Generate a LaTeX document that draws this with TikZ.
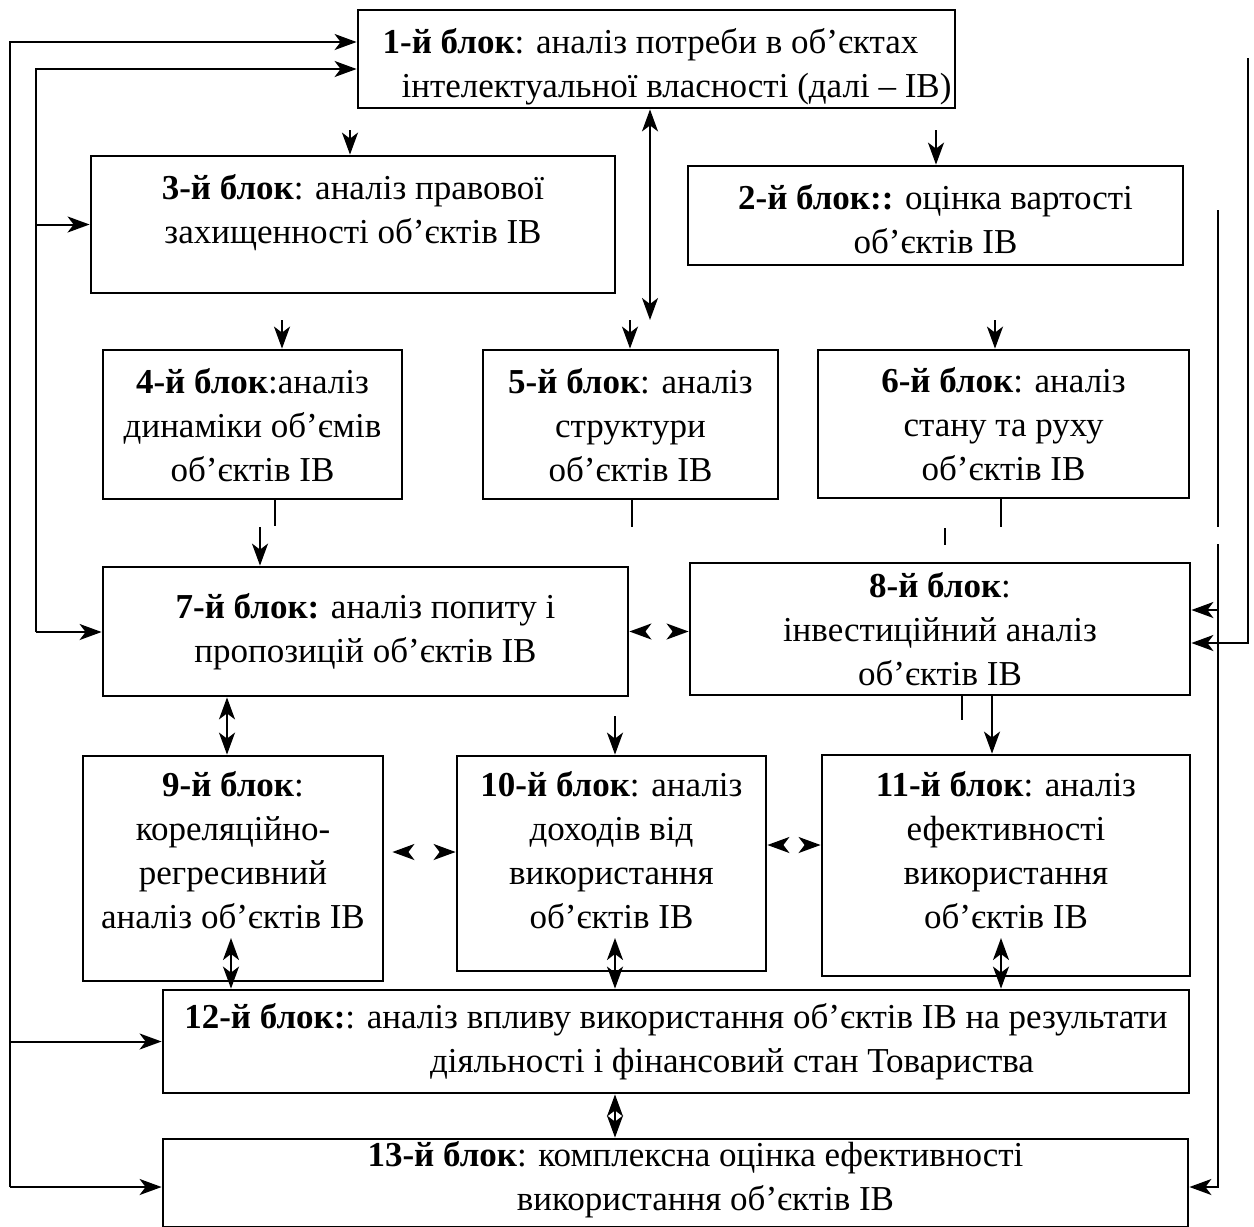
\documentclass[tikz,border=0pt]{standalone}
\usepackage{fontspec}
\setmainfont{Liberation Serif}
\usetikzlibrary{arrows.meta,calc}
\newcommand\mv[2]{\hspace*{#1}#2\hspace*{-#1}}
\newcommand\blockat[7]{%
  \node[blk, minimum width={(#4-#2)*0.5pt}, minimum height={(#5-#3)*0.5pt}]
    (#1) at ({(#2+#4)/2},{(#3+#5)/2})
    {\raisebox{#6}[\height][\depth]{\begin{tabular}{@{}c@{}}#7\end{tabular}}};}
\begin{document}
\begin{tikzpicture}[x=0.5pt,y=-0.5pt,
  blk/.style={draw, line width=1.4pt, inner sep=0pt,
    font=\fontsize{17.5pt}{22pt}\selectfont},
  ln/.style={line width=1pt},
  tip/.tip={Stealth[length=11pt,width=8pt,inset=3pt]},
  con/.style={ln, -tip},
  dbl/.style={ln, tip-tip},
  heads/.style={dbl, dash pattern=on 0pt off 2000pt}]
\useasboundingbox (0,0) rectangle (1254,1227);

\blockat{b1}{358}{10}{955}{108}{-4pt}{\mv{-3pt}{\textbf{1-й блок}: аналіз потреби в об’єктах}\\ \mv{10pt}{інтелектуальної власності (далі – ІВ)}}
\blockat{b3}{91}{156}{615}{293}{6pt}{\textbf{3-й блок}: аналіз правової\\ захищенності об’єктів ІВ}
\blockat{b2}{688}{166}{1183}{265}{-3.5pt}{\textbf{2-й блок::} оцінка вартості\\ об’єктів ІВ}
\blockat{b4}{103}{350}{402}{499}{-2pt}{\textbf{4-й блок}:аналіз\\ динаміки об’ємів\\ об’єктів ІВ}
\blockat{b5}{483}{350}{778}{499}{-2pt}{\textbf{5-й блок}: аналіз\\ структури\\ об’єктів ІВ}
\blockat{b6}{818}{350}{1189}{498}{-2pt}{\textbf{6-й блок}: аналіз\\ стану та руху\\ об’єктів ІВ}
\blockat{b7}{103}{567}{628}{696}{0pt}{\textbf{7-й блок:} аналіз попиту і\\ пропозицій об’єктів ІВ}
\blockat{b8}{690}{565}{1190}{693}{-2pt}{\textbf{8-й блок}:\\ інвестиційний аналіз\\ об’єктів ІВ}
\blockat{b9}{83}{756}{383}{981}{7.5pt}{\textbf{9-й блок}:\\ кореляційно-\\ регресивний\\ аналіз об’єктів ІВ}
\blockat{b10}{457}{756}{766}{971}{5pt}{\textbf{10-й блок}: аналіз\\ доходів від\\ використання\\ об’єктів ІВ}
\blockat{b11}{822}{755}{1190}{976}{6pt}{\textbf{11-й блок}: аналіз\\ ефективності\\ використання\\ об’єктів ІВ}
\blockat{b12}{163}{990}{1189}{1093}{0pt}{\textbf{12-й блок:}: аналіз впливу використання об’єктів ІВ на результати\\ \mv{28pt}{діяльності і фінансовий стан Товариства}}
\blockat{b13}{163}{1143}{1188}{1223}{1.5pt}{\mv{10pt}{\textbf{13-й блок}: комплексна оцінка ефективності}\\ \mv{15pt}{використання об’єктів ІВ}}

% left outer feedback line
\coordinate (lo1) at (10,42);
\coordinate (lo2) at (10,1187);
\draw[con] (lo2) -- (lo1) -- (b1.west |- lo1);
\draw[con] (lo2 |- b12.west) -- (b12.west);
\draw[con] (lo2) -- (b13.west |- lo2);
% left inner feedback line
\coordinate (li1) at (36,69);
\coordinate (li2) at (36,632);
\draw[con] (li2) -- (li1) -- (b1.west |- li1);
\draw[con] (li1 |- b3.west) -- (b3.west);
\draw[con] (li2) -- (b7.west |- li2);
% right lines
\coordinate (ri0) at (1218,210);
\coordinate (ri1) at (1218,527);
\coordinate (ri2) at (1218,544);
\coordinate (ri3) at (1218,1187);
\coordinate (ri4) at (1218,610);
\draw[ln] (ri0) -- (ri1);
\draw[con] (ri2) -- (ri3) -- (b13.east |- ri3);
\draw[con] (ri4) -- (b8.east |- ri4);
\coordinate (ro1) at (1248,58);
\coordinate (ro2) at (1248,643);
\draw[con] (ro1) -- (ro2) -- (b8.east |- ro2);

% top level arrows
\coordinate (a13) at (350,130);
\draw[con] (a13) -- (a13 |- b3.north);
\coordinate (a12) at (936,130);
\draw[con] (a12) -- (a12 |- b2.north);
\coordinate (m15) at (650,320);
\draw[dbl] (m15 |- b1.south) -- (m15);
\coordinate (a5) at (630,320);
\draw[con] (a5) -- (a5 |- b5.north);
\coordinate (a34) at (282,320);
\draw[con] (a34) -- (a34 |- b4.north);
\coordinate (a26) at (995,320);
\draw[con] (a26) -- (a26 |- b6.north);

% stubs and arrows below row 2
\coordinate (s4) at (275,526);
\draw[ln] (s4 |- b4.south) -- (s4);
\coordinate (a47) at (260,527);
\draw[con] (a47) -- (a47 |- b7.north);
\coordinate (s5) at (632,527);
\draw[ln] (s5 |- b5.south) -- (s5);
\coordinate (s6) at (1001,527);
\draw[ln] (s6 |- b6.south) -- (s6);
\coordinate (s6a) at (945,528);
\coordinate (s6b) at (945,545);
\draw[ln] (s6a) -- (s6b);

% row 3
\draw[heads] (b7.east) -- (b7.east -| b8.west);
\coordinate (d79) at (227,0);
\draw[dbl] (d79 |- b7.south) -- (d79 |- b9.north);
\coordinate (a10) at (615,716);
\draw[con] (a10) -- (a10 |- b10.north);
\coordinate (s8) at (962,720);
\draw[ln] (s8 |- b8.south) -- (s8);
\coordinate (a811) at (992,0);
\draw[con] (a811 |- b8.south) -- (a811 |- b11.north);

% row 4
\coordinate (h910) at (0,852);
\draw[heads, shorten <=4pt] (b9.east |- h910) -- (b10.west |- h910);
\coordinate (h1011) at (0,845);
\draw[heads] (b10.east |- h1011) -- (b11.west |- h1011);
\coordinate (d9) at (231,938);
\draw[dbl] (d9) -- (d9 |- b12.north);
\coordinate (d10) at (615,938);
\draw[dbl] (d10) -- (d10 |- b12.north);
\coordinate (d11) at (1001,938);
\draw[dbl] (d11) -- (d11 |- b12.north);
\coordinate (d1213) at (615,0);
\draw[dbl] (d1213 |- b12.south) -- (d1213 |- b13.north);
\end{tikzpicture}
\end{document}
